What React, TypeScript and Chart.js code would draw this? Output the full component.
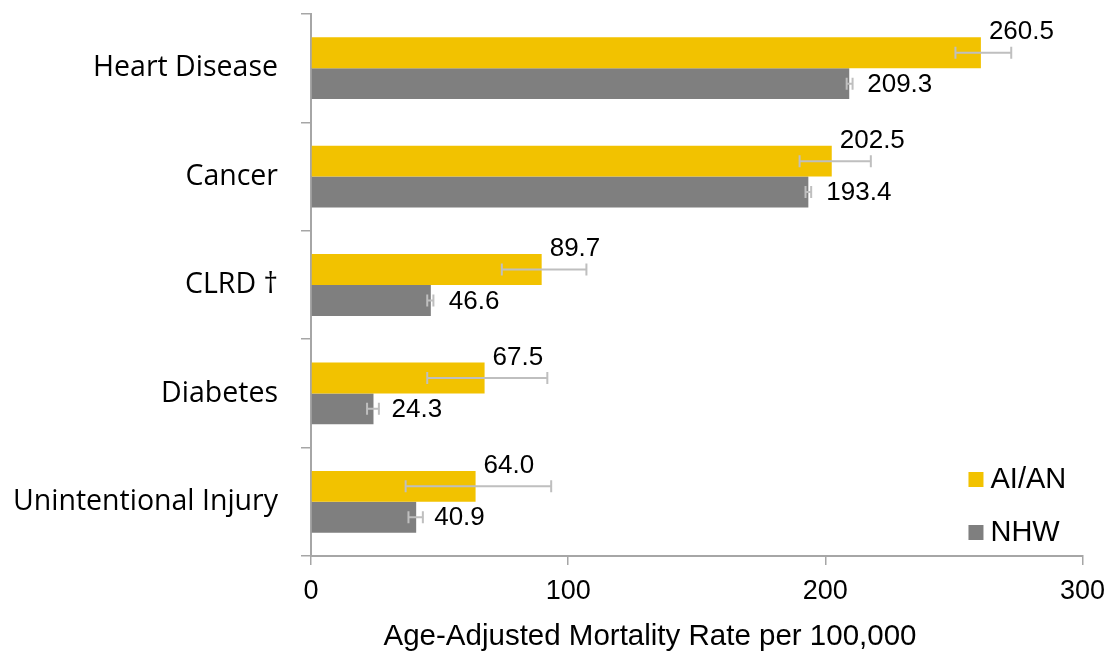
import React, { useEffect, useRef } from "react";
import { Chart, registerables } from "chart.js";

Chart.register(...registerables);

const categories = ["Heart Disease", "Cancer", "CLRD †", "Diabetes", "Unintentional Injury"];
const seriesNames = ["AI/AN", "NHW"];
const aianValues = [260.5, 202.5, 89.7, 67.5, 64.0];
const nhwValues = [209.3, 193.4, 46.6, 24.3, 40.9];
const aianLower = [250.6, 190.0, 74.2, 45.2, 36.8];
const aianUpper = [272.3, 217.7, 107.1, 91.9, 93.4];
const nhwLower = [208.3, 192.3, 45.2, 21.8, 37.9];
const nhwUpper = [210.6, 194.5, 47.6, 26.4, 43.5];
const xAxisMin = 0;
const xAxisMax = 300;
const xAxisStep = 100;
const xAxisTitle = "Age-Adjusted Mortality Rate per 100,000";

const YELLOW = "#F2C200";
const GRAY = "#7F7F7F";
const ERR = "#BFBFBF";
const AXIS = "#A6A6A6";
const NUM_FONT = "'Liberation Sans', Arial, sans-serif";
const CAT_FONT = "'Open Sans', sans-serif";

const errorBarsAndLabels = {
  id: "errorBarsAndLabels",
  afterDatasetsDraw(chart: any) {
    const ctx = chart.ctx;
    const xs = chart.scales.x;
    const lows = [aianLower, nhwLower];
    const highs = [aianUpper, nhwUpper];
    const vals = [aianValues, nhwValues];
    ctx.save();
    // error bars
    chart.data.datasets.forEach((_ds: any, di: number) => {
      const meta = chart.getDatasetMeta(di);
      meta.data.forEach((bar: any, i: number) => {
        const x1 = xs.getPixelForValue(lows[di][i]);
        const x2 = xs.getPixelForValue(highs[di][i]);
        const y = bar.y;
        ctx.strokeStyle = ERR;
        ctx.lineWidth = 2;
        ctx.beginPath();
        ctx.moveTo(x1, y);
        ctx.lineTo(x2, y);
        ctx.moveTo(x1, y - 6);
        ctx.lineTo(x1, y + 6);
        ctx.moveTo(x2, y - 6);
        ctx.lineTo(x2, y + 6);
        ctx.stroke();
      });
    });
    // value labels
    ctx.fillStyle = "#000";
    ctx.font = `26px ${NUM_FONT}`;
    ctx.textAlign = "left";
    ctx.textBaseline = "middle";
    chart.data.datasets.forEach((_ds: any, di: number) => {
      const meta = chart.getDatasetMeta(di);
      meta.data.forEach((bar: any, i: number) => {
        const txt = vals[di][i].toFixed(1);
        if (di === 0) {
          ctx.fillText(txt, bar.x + 8, bar.y - bar.height / 2 - 5);
        } else {
          ctx.fillText(txt, bar.x + 18, bar.y + 1);
        }
      });
    });
    // legend
    const colors = [YELLOW, GRAY];
    const lx = chart.chartArea.right - 114;
    const ly = chart.chartArea.bottom - 84;
    ctx.font = `29px ${NUM_FONT}`;
    seriesNames.forEach((name, k) => {
      const y = ly + k * 53;
      ctx.fillStyle = colors[k];
      ctx.fillRect(lx, y, 15, 15);
      ctx.fillStyle = "#000";
      ctx.fillText(name, lx + 22, y + 8);
    });
    // axis title
    ctx.font = `29.5px ${NUM_FONT}`;
    ctx.textAlign = "center";
    ctx.fillText(xAxisTitle, chart.chartArea.left + 339, chart.height - 20);
    ctx.restore();
  },
};

export default function App() {
  const ref = useRef<HTMLCanvasElement>(null);
  useEffect(() => {
    if (!ref.current) return;
    const chart = new Chart(ref.current, {
      type: "bar",
      data: {
        labels: categories,
        datasets: [
          { label: seriesNames[0], data: aianValues, backgroundColor: YELLOW, categoryPercentage: 0.57, barPercentage: 1 },
          { label: seriesNames[1], data: nhwValues, backgroundColor: GRAY, categoryPercentage: 0.57, barPercentage: 1 },
        ],
      },
      options: {
        indexAxis: "y",
        responsive: false,
        animation: false,
        layout: { padding: { left: 0, right: 29, top: 14, bottom: 0 } },
        plugins: { legend: { display: false }, tooltip: { enabled: false } },
        scales: {
          x: {
            min: xAxisMin,
            max: xAxisMax,
            ticks: { stepSize: xAxisStep, color: "#000", font: { family: NUM_FONT, size: 27 }, padding: 10, maxRotation: 0 },
            grid: { drawOnChartArea: false, drawTicks: true, tickLength: 9, color: AXIS, lineWidth: 1.5 },
            border: { display: true, color: AXIS, width: 2 },
            title: { display: false },
            afterFit: (s: any) => { s.height = 101; },
          },
          y: {
            ticks: { color: "#000", font: { family: CAT_FONT, size: 28.5 }, padding: 23 },
            grid: { drawOnChartArea: false, drawTicks: true, tickLength: 10, color: AXIS, lineWidth: 1.5, offset: true },
            border: { display: true, color: AXIS, width: 2 },
            afterFit: (s: any) => { s.width = 311; s.paddingTop = 0; s.paddingBottom = 0; },
          },
        },
      },
      plugins: [errorBarsAndLabels],
    } as any);
    return () => chart.destroy();
  }, []);
  return (
    <div style={{ position: "absolute", left: 0, top: 0, width: 1115, height: 657, background: "#fff" }}>
      <canvas ref={ref} width={1115} height={657} style={{ display: "block" }} />
    </div>
  );
}
